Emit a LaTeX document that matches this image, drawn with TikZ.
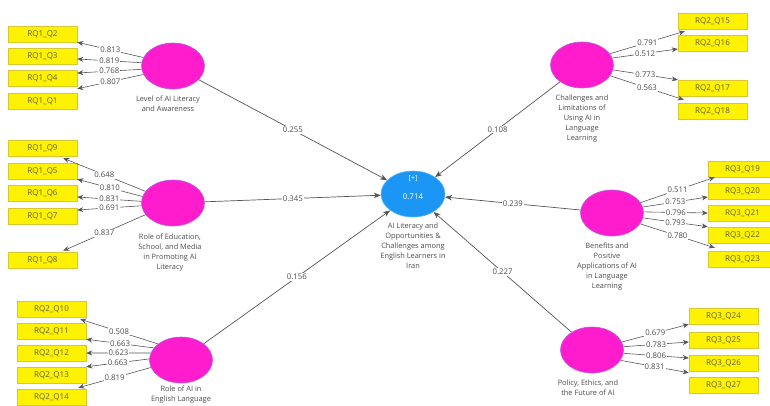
\documentclass[tikz,border=0pt]{standalone}
\usepackage{fontspec}
\setmainfont{Open Sans}
\usetikzlibrary{shapes.geometric,arrows.meta}
\definecolor{lvpink}{RGB}{255,28,205}
\definecolor{lvedge}{RGB}{175,95,235}
\definecolor{mainblue}{RGB}{28,150,245}
\definecolor{mainedge}{RGB}{90,180,250}
\definecolor{boxyellow}{RGB}{255,242,0}
\definecolor{boxedge}{RGB}{215,200,50}
\definecolor{txtgray}{RGB}{75,75,75}
\definecolor{boxtxt}{RGB}{95,95,60}
\definecolor{linegray}{RGB}{85,85,85}
\begin{document}
\begin{tikzpicture}[x=1pt,y=-1pt,
  lv/.style={ellipse, fill=lvpink, draw=lvedge, line width=0.6pt, minimum width=63pt, minimum height=46pt, inner sep=0pt},
  mainlv/.style={ellipse, fill=mainblue, draw=mainedge, line width=0.6pt, minimum width=64pt, minimum height=46pt, inner sep=0pt},
  ind/.style={rectangle, fill=boxyellow, draw=boxedge, line width=0.5pt, minimum width=69pt, minimum height=16pt, inner sep=0pt, font=\fontsize{8}{9}\selectfont, text=boxtxt},
  lbl/.style={align=center, font=\fontsize{7.4}{10}\selectfont, text=txtgray, inner sep=0pt},
  load/.style={draw=linegray, line width=0.6pt, -{Stealth[length=6pt,width=5pt]}},
  pathc/.style={draw=linegray, line width=0.7pt, -{Stealth[length=7pt,width=5.5pt]}},
  coef/.style={fill=white, inner sep=1pt, font=\fontsize{7.8}{9}\selectfont, text=txtgray, pos=0.5},
]
\useasboundingbox (0,0) rectangle (770,405);
\clip (0,0) rectangle (770,405);

% central construct
\node[mainlv] (main) at (413,194) {};
\node[font=\fontsize{7}{8}\selectfont, text=white] (mplus) at (413,179) {[+]};
\node[font=\fontsize{8}{9}\selectfont, text=white] (mr2) at (413,197) {0.714};
\node[lbl, anchor=north] (mainlbl) at (413,223) {AI Literacy and\\Opportunities \&\\Challenges among\\English Learners in\\Iran};

% exogenous constructs
\node[lv] (lv1) at (173,66) {};
\node[lbl, anchor=north] (lv1lbl) at (168,96) {Level of AI Literacy\\and Awareness};
\node[lv] (lv2) at (173,203) {};
\node[lbl, anchor=north] (lv2lbl) at (170,234) {Role of Education,\\School, and Media\\in Promoting AI\\Literacy};
\node[lv] (lv3) at (181,360) {};
\node[lbl, anchor=north] (lv3lbl) at (181,386) {Role of AI in\\English Language};
\node[lv] (rv1) at (582,65) {};
\node[lbl, anchor=north] (rv1lbl) at (582,95) {Challenges and\\Limitations of\\Using AI in\\Language\\Learning};
\node[lv] (rv2) at (612,213) {};
\node[lbl, anchor=north] (rv2lbl) at (607,243) {Benefits and\\Positive\\Applications of AI\\in Language\\Learning};
\node[lv] (rv3) at (592,350) {};
\node[lbl, anchor=north] (rv3lbl) at (588,380) {Policy, Ethics, and\\the Future of AI};

% indicators group 1
\node[ind] (q2) at (42.5,34) {RQ1\_Q2};
\node[ind] (q3) at (42.5,56) {RQ1\_Q3};
\node[ind] (q4) at (42.5,78) {RQ1\_Q4};
\node[ind] (q1) at (42.5,101) {RQ1\_Q1};
% group 2
\node[ind] (q9) at (42.5,148) {RQ1\_Q9};
\node[ind] (q5) at (42.5,171) {RQ1\_Q5};
\node[ind] (q6) at (42.5,193) {RQ1\_Q6};
\node[ind] (q7) at (42.5,216) {RQ1\_Q7};
\node[ind] (q8) at (42.5,260) {RQ1\_Q8};
% group 3
\node[ind] (q10) at (51.5,309) {RQ2\_Q10};
\node[ind] (q11) at (51.5,331) {RQ2\_Q11};
\node[ind] (q12) at (51.5,353) {RQ2\_Q12};
\node[ind] (q13) at (51.5,375) {RQ2\_Q13};
\node[ind] (q14) at (51.5,397) {RQ2\_Q14};
% right group 1
\node[ind] (q15) at (712.5,21) {RQ2\_Q15};
\node[ind] (q16) at (712.5,43) {RQ2\_Q16};
\node[ind] (q17) at (712.5,88) {RQ2\_Q17};
\node[ind] (q18) at (712.5,111) {RQ2\_Q18};
% right group 2
\node[ind] (q19) at (742.5,169) {RQ3\_Q19};
\node[ind] (q20) at (742.5,191) {RQ3\_Q20};
\node[ind] (q21) at (742.5,213) {RQ3\_Q21};
\node[ind] (q22) at (742.5,235) {RQ3\_Q22};
\node[ind] (q23) at (742.5,259) {RQ3\_Q23};
% right group 3
\node[ind] (q24) at (723.5,316) {RQ3\_Q24};
\node[ind] (q25) at (723.5,340) {RQ3\_Q25};
\node[ind] (q26) at (723.5,363) {RQ3\_Q26};
\node[ind] (q27) at (723.5,385) {RQ3\_Q27};

% structural paths
\draw[pathc] (lv1) -- node[coef]{0.255} (main);
\draw[pathc] (lv2) -- node[coef]{0.345} (main);
\draw[pathc] (lv3) -- node[coef]{0.156} (main);
\draw[pathc] (rv1) -- node[coef]{0.108} (main);
\draw[pathc] (rv2) -- node[coef]{0.239} (main);
\draw[pathc] (rv3) -- node[coef]{0.227} (main);

% loadings group 1
\draw[load] (lv1.164) -- node[coef]{0.813} (q2.south east);
\draw[load] (lv1.174) -- node[coef]{0.819} ([yshift=-3pt]q3.east);
\draw[load] (lv1.186) -- node[coef]{0.768} ([yshift=5pt]q4.east);
\draw[load] (lv1.196) -- node[coef]{0.807} ([yshift=4pt]q1.north east);
% group 2
\draw[load] (lv2.157) -- node[coef]{0.648} ([xshift=-14pt,yshift=-2pt]q9.south east);
\draw[load] (lv2.168) -- node[coef]{0.810} (q5.south east);
\draw[load] (lv2.177) -- node[coef]{0.831} ([yshift=-4pt]q6.east);
\draw[load] (lv2.185) -- node[coef]{0.691} ([yshift=6pt]q7.east);
\draw[load] (lv2.203) -- node[coef]{0.837} ([xshift=-14pt,yshift=1pt]q8.north east);
% group 3
\draw[load] (lv3.145) -- node[coef]{0.508} ([xshift=-6pt,yshift=-2pt]q10.south east);
\draw[load] (lv3.156) -- node[coef]{0.663} (q11.south east);
\draw[load] (lv3.167) -- node[coef]{0.623} (q12.east);
\draw[load] (lv3.178) -- node[coef]{0.663} (q13.north east);
\draw[load] (lv3.194) -- node[coef]{0.819} ([xshift=-8pt,yshift=1pt]q14.north east);
% right group 1
\draw[load] (rv1.22) -- node[coef]{0.791} ([xshift=7pt,yshift=-2pt]q15.south west);
\draw[load] (rv1.13) -- node[coef]{0.512} ([yshift=-6pt]q16.west);
\draw[load] (rv1.-9) -- node[coef]{0.773} (q17.north west);
\draw[load] (rv1.-21) -- node[coef]{0.563} ([xshift=6pt,yshift=3pt]q18.north west);
% right group 2
\draw[load] (rv2.20) -- node[coef]{0.511} ([xshift=7pt]q19.south west);
\draw[load] (rv2.11) -- node[coef]{0.753} ([yshift=-6pt]q20.west);
\draw[load] (rv2.2) -- node[coef]{0.796} (q21.west);
\draw[load] (rv2.-9) -- node[coef]{0.793} (q22.north west);
\draw[load] (rv2.-21) -- node[coef]{0.780} ([xshift=7pt,yshift=3pt]q23.north west);
% right group 3
\draw[load] (rv3.15) -- node[coef]{0.679} (q24.south west);
\draw[load] (rv3.6) -- node[coef]{0.783} ([yshift=-2pt]q25.west);
\draw[load] (rv3.-6) -- node[coef]{0.806} ([yshift=5pt]q26.west);
\draw[load] (rv3.-20) -- node[coef]{0.831} ([yshift=4pt]q27.north west);
\end{tikzpicture}
\end{document}
